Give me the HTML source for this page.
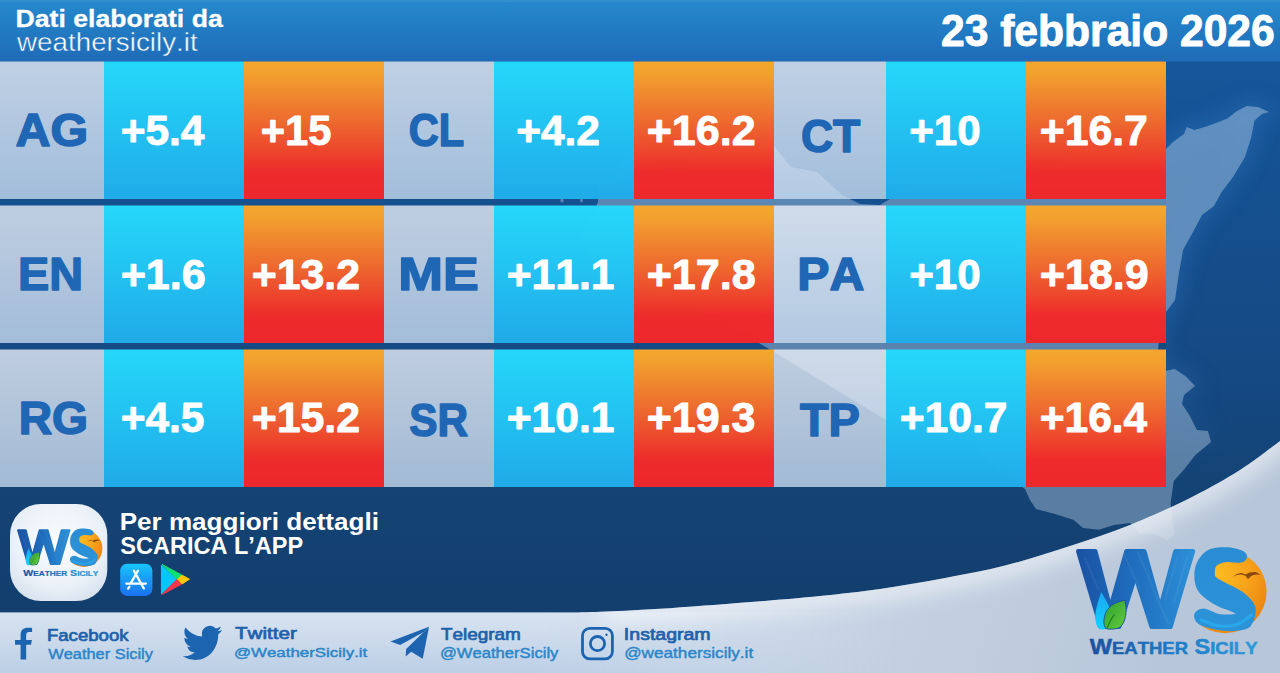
<!DOCTYPE html>
<html lang="it"><head><meta charset="utf-8"><title>Weather Sicily - 23 febbraio 2026</title>
<style>html,body{margin:0;padding:0;background:#15508f;overflow:hidden}svg{display:block}text{font-family:"Liberation Sans",sans-serif;font-kerning:none;white-space:pre}</style></head><body>
<svg width="1280" height="673" viewBox="0 0 1280 673">
<defs>
<linearGradient id="gBg" x1="0" y1="0" x2="0" y2="1">
 <stop offset="0" stop-color="#16599f"/><stop offset="0.30" stop-color="#15508f"/><stop offset="0.52" stop-color="#154a85"/><stop offset="0.73" stop-color="#144375"/><stop offset="1" stop-color="#123c69"/>
</linearGradient>
<linearGradient id="gHead" x1="0" y1="0" x2="0" y2="1">
 <stop offset="0" stop-color="#2489cd"/><stop offset="1" stop-color="#1f6bb8"/>
</linearGradient>
<linearGradient id="gLab" x1="0" y1="0" x2="0" y2="1">
 <stop offset="0" stop-color="#f4f6fb"/><stop offset="1" stop-color="#cfe0f3"/>
</linearGradient>
<linearGradient id="gMin" x1="0" y1="0" x2="0" y2="1">
 <stop offset="0" stop-color="#25dafb"/><stop offset="1" stop-color="#20acea"/>
</linearGradient>
<linearGradient id="gMax" x1="0" y1="0" x2="0" y2="1">
 <stop offset="0" stop-color="#f6a82d"/><stop offset="0.08" stop-color="#f5a22d"/><stop offset="0.45" stop-color="#ef682d"/><stop offset="0.8" stop-color="#f02b2a"/><stop offset="1" stop-color="#ef272b"/>
</linearGradient>
<linearGradient id="gSky" gradientUnits="userSpaceOnUse" x1="700" y1="560" x2="1150" y2="720">
 <stop offset="0" stop-color="#cdd9e8"/><stop offset="1" stop-color="#b7c6d9"/>
</linearGradient>
<linearGradient id="gSocV" x1="0" y1="0" x2="0" y2="1">
 <stop offset="0" stop-color="#d8e3f0"/><stop offset="1" stop-color="#bccfe6"/>
</linearGradient>
<linearGradient id="gSocH" gradientUnits="userSpaceOnUse" x1="0" y1="0" x2="900" y2="0">
 <stop offset="0" stop-color="#fff"/><stop offset="0.6" stop-color="#fff"/><stop offset="1" stop-color="#000"/>
</linearGradient>
<mask id="mSoc" maskUnits="userSpaceOnUse" x="0" y="600" width="900" height="80"><rect x="0" y="600" width="900" height="80" fill="url(#gSocH)"/></mask>
</defs>
<rect width="1280" height="673" fill="url(#gBg)"/>
<filter id="blurM" x="-20%" y="-20%" width="140%" height="140%"><feGaussianBlur stdDeviation="10"/></filter>
<linearGradient id="gHalo" gradientUnits="userSpaceOnUse" x1="0" y1="340" x2="0" y2="470"><stop offset="0" stop-color="#fff"/><stop offset="1" stop-color="#000"/></linearGradient><mask id="haloclip" maskUnits="userSpaceOnUse" x="1166" y="0" width="114" height="673"><rect x="1166" y="0" width="114" height="673" fill="url(#gHalo)"/></mask>
<g mask="url(#haloclip)"><polygon fill="#3f8fe0" fill-opacity="0.16" stroke="#3f8fe0" stroke-opacity="0.16" stroke-width="14" filter="url(#blurM)" points="1269,112 1258,107 1246.7,106 1237,111 1227,118.7 1208,126 1194.5,130 1186.7,127 1184,134 1173,142 1166,149 1150,156 1125,151 1085,147 1051,166 990,178 920,177 890,199 880,205 860,204 842,195 817,172 791,167 774,146 765,140 745,150 723,134 700,150 676,177 655,160 644,136 630,150 615,175 598,185 598,202 590,220 580,239 590,260 614,279 660,300 719,317 759,343 774,352 815,377 886,420 903,428 969,440 1000,470 1025,489 1030,500 1036,509 1055,514 1073.75,520 1083,528 1098.75,529.7 1114,525 1130,523 1139,533 1155,534 1167.5,540.6 1175,534 1172,518.75 1170.6,503 1173.75,481 1184.7,468.75 1195.6,454.7 1211,442 1208,431 1197,430 1189.6,415.5 1182,404 1184,395 1195,386 1186,376.5 1174.7,369 1165.4,371 1158,350 1160,330 1166,312 1175,300 1179,273 1183,250 1192.5,233 1202,215 1214,206 1221.6,192 1233,177 1245,157 1251,138 1254.5,120.6 1262,114"/></g>
<polygon fill="#d8e8f7" fill-opacity="0.36" points="1269,112 1258,107 1246.7,106 1237,111 1227,118.7 1208,126 1194.5,130 1186.7,127 1184,134 1173,142 1166,149 1150,156 1125,151 1085,147 1051,166 990,178 920,177 890,199 880,205 860,204 842,195 817,172 791,167 774,146 765,140 745,150 723,134 700,150 676,177 655,160 644,136 630,150 615,175 598,185 598,202 590,220 580,239 590,260 614,279 660,300 719,317 759,343 774,352 815,377 886,420 903,428 969,440 1000,470 1025,489 1030,500 1036,509 1055,514 1073.75,520 1083,528 1098.75,529.7 1114,525 1130,523 1139,533 1155,534 1167.5,540.6 1175,534 1172,518.75 1170.6,503 1173.75,481 1184.7,468.75 1195.6,454.7 1211,442 1208,431 1197,430 1189.6,415.5 1182,404 1184,395 1195,386 1186,376.5 1174.7,369 1165.4,371 1158,350 1160,330 1166,312 1175,300 1179,273 1183,250 1192.5,233 1202,215 1214,206 1221.6,192 1233,177 1245,157 1251,138 1254.5,120.6 1262,114"/>
<g fill="#d8e8f7" fill-opacity="0.36"><ellipse cx="562" cy="200.5" rx="1.6" ry="2"/><ellipse cx="581.5" cy="200.5" rx="1.4" ry="2"/></g>
<clipPath id="skyclip"><path d="M575,612.5 C579.2,612.4 585.8,612.4 600,611.8 C614.2,611.2 634.8,610.4 660,608.8 C685.2,607.2 724.3,604.1 751,602 C777.7,599.9 798.5,598.2 820,596 C841.5,593.8 859.2,592.0 880,589 C900.8,586.0 924.2,581.9 945,578 C965.8,574.1 984.2,570.9 1005,565.6 C1025.8,560.3 1049.2,552.8 1070,546 C1090.8,539.2 1109.7,533.2 1130,525 C1150.3,516.8 1173.7,506.2 1192,497 C1210.3,487.8 1225.3,479.3 1240,470 C1254.7,460.7 1273.3,445.8 1280,441 L1280,673 L0,673 L0,612.5 Z"/></clipPath>
<filter id="blur14" x="-10%" y="-50%" width="120%" height="200%"><feGaussianBlur stdDeviation="10"/></filter>
<path d="M575,612.5 C579.2,612.4 585.8,612.4 600,611.8 C614.2,611.2 634.8,610.4 660,608.8 C685.2,607.2 724.3,604.1 751,602 C777.7,599.9 798.5,598.2 820,596 C841.5,593.8 859.2,592.0 880,589 C900.8,586.0 924.2,581.9 945,578 C965.8,574.1 984.2,570.9 1005,565.6 C1025.8,560.3 1049.2,552.8 1070,546 C1090.8,539.2 1109.7,533.2 1130,525 C1150.3,516.8 1173.7,506.2 1192,497 C1210.3,487.8 1225.3,479.3 1240,470 C1254.7,460.7 1273.3,445.8 1280,441 L1280,673 L0,673 L0,612.5 Z" fill="url(#gSky)"/>
<rect x="0" y="612.5" width="900" height="60.5" fill="url(#gSocV)" clip-path="url(#skyclip)" mask="url(#mSoc)"/>
<g clip-path="url(#skyclip)"><path d="M600,611.8 C610.0,611.3 634.8,610.4 660,608.8 C685.2,607.2 724.3,604.1 751,602 C777.7,599.9 798.5,598.2 820,596 C841.5,593.8 859.2,592.0 880,589 C900.8,586.0 924.2,581.9 945,578 C965.8,574.1 984.2,570.9 1005,565.6 C1025.8,560.3 1049.2,552.8 1070,546 C1090.8,539.2 1109.7,533.2 1130,525 C1150.3,516.8 1173.7,506.2 1192,497 C1210.3,487.8 1225.3,479.3 1240,470 C1254.7,460.7 1273.3,445.8 1280,441 L1330,400" fill="none" stroke="#ffffff" stroke-opacity="0.5" stroke-width="26" filter="url(#blur14)"/>
<polygon fill="#ffffff" fill-opacity="0.16" points="1269,112 1258,107 1246.7,106 1237,111 1227,118.7 1208,126 1194.5,130 1186.7,127 1184,134 1173,142 1166,149 1150,156 1125,151 1085,147 1051,166 990,178 920,177 890,199 880,205 860,204 842,195 817,172 791,167 774,146 765,140 745,150 723,134 700,150 676,177 655,160 644,136 630,150 615,175 598,185 598,202 590,220 580,239 590,260 614,279 660,300 719,317 759,343 774,352 815,377 886,420 903,428 969,440 1000,470 1025,489 1030,500 1036,509 1055,514 1073.75,520 1083,528 1098.75,529.7 1114,525 1130,523 1139,533 1155,534 1167.5,540.6 1175,534 1172,518.75 1170.6,503 1173.75,481 1184.7,468.75 1195.6,454.7 1211,442 1208,431 1197,430 1189.6,415.5 1182,404 1184,395 1195,386 1186,376.5 1174.7,369 1165.4,371 1158,350 1160,330 1166,312 1175,300 1179,273 1183,250 1192.5,233 1202,215 1214,206 1221.6,192 1233,177 1245,157 1251,138 1254.5,120.6 1262,114"/></g>
<rect x="0" y="0" width="1280" height="61.5" fill="url(#gHead)"/>
<rect x="0" y="0" width="1280" height="2" fill="#ffffff" fill-opacity="0.06"/>
<rect x="0" y="61.5" width="104" height="137.5" fill="url(#gLab)" fill-opacity="0.76"/>
<rect x="104" y="61.5" width="140" height="137.5" fill="url(#gMin)" fill-opacity="0.985"/>
<rect x="244" y="61.5" width="140" height="137.5" fill="url(#gMax)" fill-opacity="0.99"/>
<rect x="384" y="61.5" width="110" height="137.5" fill="url(#gLab)" fill-opacity="0.76"/>
<rect x="494" y="61.5" width="140" height="137.5" fill="url(#gMin)" fill-opacity="0.985"/>
<rect x="634" y="61.5" width="140" height="137.5" fill="url(#gMax)" fill-opacity="0.99"/>
<rect x="774" y="61.5" width="112" height="137.5" fill="url(#gLab)" fill-opacity="0.76"/>
<rect x="886" y="61.5" width="140" height="137.5" fill="url(#gMin)" fill-opacity="0.985"/>
<rect x="1026" y="61.5" width="140" height="137.5" fill="url(#gMax)" fill-opacity="0.99"/>
<rect x="0" y="205.5" width="104" height="137.5" fill="url(#gLab)" fill-opacity="0.76"/>
<rect x="104" y="205.5" width="140" height="137.5" fill="url(#gMin)" fill-opacity="0.985"/>
<rect x="244" y="205.5" width="140" height="137.5" fill="url(#gMax)" fill-opacity="0.99"/>
<rect x="384" y="205.5" width="110" height="137.5" fill="url(#gLab)" fill-opacity="0.76"/>
<rect x="494" y="205.5" width="140" height="137.5" fill="url(#gMin)" fill-opacity="0.985"/>
<rect x="634" y="205.5" width="140" height="137.5" fill="url(#gMax)" fill-opacity="0.99"/>
<rect x="774" y="205.5" width="112" height="137.5" fill="url(#gLab)" fill-opacity="0.76"/>
<rect x="886" y="205.5" width="140" height="137.5" fill="url(#gMin)" fill-opacity="0.985"/>
<rect x="1026" y="205.5" width="140" height="137.5" fill="url(#gMax)" fill-opacity="0.99"/>
<rect x="0" y="349.5" width="104" height="137.5" fill="url(#gLab)" fill-opacity="0.76"/>
<rect x="104" y="349.5" width="140" height="137.5" fill="url(#gMin)" fill-opacity="0.985"/>
<rect x="244" y="349.5" width="140" height="137.5" fill="url(#gMax)" fill-opacity="0.99"/>
<rect x="384" y="349.5" width="110" height="137.5" fill="url(#gLab)" fill-opacity="0.76"/>
<rect x="494" y="349.5" width="140" height="137.5" fill="url(#gMin)" fill-opacity="0.985"/>
<rect x="634" y="349.5" width="140" height="137.5" fill="url(#gMax)" fill-opacity="0.99"/>
<rect x="774" y="349.5" width="112" height="137.5" fill="url(#gLab)" fill-opacity="0.76"/>
<rect x="886" y="349.5" width="140" height="137.5" fill="url(#gMin)" fill-opacity="0.985"/>
<rect x="1026" y="349.5" width="140" height="137.5" fill="url(#gMax)" fill-opacity="0.99"/>
<text transform="translate(15.54,145.55) scale(1.0621,1)" font-size="45.64" font-weight="700" fill="#1f67b5"  stroke="#1f67b5" stroke-width="1.5" stroke-linejoin="round">AG</text>
<text transform="translate(408.74,145.55) scale(0.9129,1)" font-size="45.64" font-weight="700" fill="#1f67b5"  stroke="#1f67b5" stroke-width="1.5" stroke-linejoin="round">CL</text>
<text transform="translate(800.92,151.85) scale(0.9765,1)" font-size="45.64" font-weight="700" fill="#1f67b5"  stroke="#1f67b5" stroke-width="1.5" stroke-linejoin="round">CT</text>
<text transform="translate(17.92,289.75) scale(1.0267,1)" font-size="45.64" font-weight="700" fill="#1f67b5"  stroke="#1f67b5" stroke-width="1.5" stroke-linejoin="round">EN</text>
<text transform="translate(398.15,289.55) scale(1.1788,1)" font-size="45.64" font-weight="700" fill="#1f67b5"  stroke="#1f67b5" stroke-width="1.5" stroke-linejoin="round">ME</text>
<text transform="translate(797.22,290.35) scale(1.0576,1)" font-size="45.64" font-weight="700" fill="#1f67b5"  stroke="#1f67b5" stroke-width="1.5" stroke-linejoin="round">PA</text>
<text transform="translate(18.65,434.35) scale(1.0147,1)" font-size="45.64" font-weight="700" fill="#1f67b5"  stroke="#1f67b5" stroke-width="1.5" stroke-linejoin="round">RG</text>
<text transform="translate(409.23,435.75) scale(0.9288,1)" font-size="45.64" font-weight="700" fill="#1f67b5"  stroke="#1f67b5" stroke-width="1.5" stroke-linejoin="round">SR</text>
<text transform="translate(799.92,435.75) scale(1.0276,1)" font-size="45.64" font-weight="700" fill="#1f67b5"  stroke="#1f67b5" stroke-width="1.5" stroke-linejoin="round">TP</text>
<text transform="translate(120.67,144.55) scale(1.0107,1)" font-size="42.01" font-weight="700" fill="#ffffff"  stroke="#ffffff" stroke-width="0.9" stroke-linejoin="round">+5.4</text>
<text transform="translate(260.70,144.55) scale(0.9909,1)" font-size="42.01" font-weight="700" fill="#ffffff"  stroke="#ffffff" stroke-width="0.9" stroke-linejoin="round">+15</text>
<text transform="translate(516.17,144.55) scale(1.0109,1)" font-size="42.01" font-weight="700" fill="#ffffff"  stroke="#ffffff" stroke-width="0.9" stroke-linejoin="round">+4.2</text>
<text transform="translate(646.64,144.55) scale(1.0258,1)" font-size="42.01" font-weight="700" fill="#ffffff"  stroke="#ffffff" stroke-width="0.9" stroke-linejoin="round">+16.2</text>
<text transform="translate(909.28,144.55) scale(1.0019,1)" font-size="42.01" font-weight="700" fill="#ffffff"  stroke="#ffffff" stroke-width="0.9" stroke-linejoin="round">+10</text>
<text transform="translate(1039.65,144.55) scale(1.0187,1)" font-size="42.01" font-weight="700" fill="#ffffff"  stroke="#ffffff" stroke-width="0.9" stroke-linejoin="round">+16.7</text>
<text transform="translate(120.64,288.85) scale(1.0271,1)" font-size="42.01" font-weight="700" fill="#ffffff"  stroke="#ffffff" stroke-width="0.9" stroke-linejoin="round">+1.6</text>
<text transform="translate(251.65,288.85) scale(1.0195,1)" font-size="42.01" font-weight="700" fill="#ffffff"  stroke="#ffffff" stroke-width="0.9" stroke-linejoin="round">+13.2</text>
<text transform="translate(506.66,288.85) scale(1.0145,1)" font-size="42.01" font-weight="700" fill="#ffffff"  stroke="#ffffff" stroke-width="0.9" stroke-linejoin="round">+11.1</text>
<text transform="translate(646.64,288.85) scale(1.0278,1)" font-size="42.01" font-weight="700" fill="#ffffff"  stroke="#ffffff" stroke-width="0.9" stroke-linejoin="round">+17.8</text>
<text transform="translate(909.28,288.85) scale(1.0019,1)" font-size="42.01" font-weight="700" fill="#ffffff"  stroke="#ffffff" stroke-width="0.9" stroke-linejoin="round">+10</text>
<text transform="translate(1039.64,288.85) scale(1.0256,1)" font-size="42.01" font-weight="700" fill="#ffffff"  stroke="#ffffff" stroke-width="0.9" stroke-linejoin="round">+18.9</text>
<text transform="translate(120.67,432.15) scale(1.0107,1)" font-size="42.01" font-weight="700" fill="#ffffff"  stroke="#ffffff" stroke-width="0.9" stroke-linejoin="round">+4.5</text>
<text transform="translate(251.65,432.15) scale(1.0195,1)" font-size="42.01" font-weight="700" fill="#ffffff"  stroke="#ffffff" stroke-width="0.9" stroke-linejoin="round">+15.2</text>
<text transform="translate(506.66,432.15) scale(1.0145,1)" font-size="42.01" font-weight="700" fill="#ffffff"  stroke="#ffffff" stroke-width="0.9" stroke-linejoin="round">+10.1</text>
<text transform="translate(646.64,432.15) scale(1.0242,1)" font-size="42.01" font-weight="700" fill="#ffffff"  stroke="#ffffff" stroke-width="0.9" stroke-linejoin="round">+19.3</text>
<text transform="translate(899.66,432.15) scale(1.0138,1)" font-size="42.01" font-weight="700" fill="#ffffff"  stroke="#ffffff" stroke-width="0.9" stroke-linejoin="round">+10.7</text>
<text transform="translate(1039.66,432.15) scale(1.0125,1)" font-size="42.01" font-weight="700" fill="#ffffff"  stroke="#ffffff" stroke-width="0.9" stroke-linejoin="round">+16.4</text>
<text transform="translate(15.57,26.55) scale(1.0981,1)" font-size="24.27" font-weight="700" fill="#ffffff"  stroke="#ffffff" stroke-width="0.3" stroke-linejoin="round">Dati elaborati da</text>
<text transform="translate(17.04,51.00) scale(1.0928,1)" font-size="25.43" font-weight="400" fill="#ffffff"  stroke="#2277c1" stroke-width="0.45">weathersicily.it</text>
<text transform="translate(940.97,45.55) scale(0.9803,1)" font-size="43.46" font-weight="700" fill="#ffffff"  stroke="#ffffff" stroke-width="0.9" stroke-linejoin="round">23 febbraio 2026</text>
<text transform="translate(119.65,529.50) scale(1.1289,1)" font-size="23.11" font-weight="700" fill="#ffffff" >Per maggiori dettagli</text>
<text transform="translate(120.22,553.60) scale(1.0121,1)" font-size="23.26" font-weight="700" fill="#ffffff" >SCARICA L’APP</text>
<text transform="translate(46.92,640.75) scale(1.1851,1)" font-size="15.70" font-weight="400" fill="#1e62ab"  stroke="#1e62ab" stroke-width="0.7" stroke-linejoin="round">Facebook</text>
<text transform="translate(48.25,658.77) scale(1.1675,1)" font-size="14.03" font-weight="400" fill="#2b86c9"  stroke="#2b86c9" stroke-width="0.45" stroke-linejoin="round">Weather Sicily</text>
<text transform="translate(234.89,638.85) scale(1.3046,1)" font-size="15.84" font-weight="400" fill="#1e62ab"  stroke="#1e62ab" stroke-width="0.7" stroke-linejoin="round">Twitter</text>
<text transform="translate(233.90,657.17) scale(1.2425,1)" font-size="13.59" font-weight="400" fill="#2b86c9"  stroke="#2b86c9" stroke-width="0.45" stroke-linejoin="round">@WeatherSicily.it</text>
<text transform="translate(440.92,639.65) scale(1.1631,1)" font-size="16.28" font-weight="400" fill="#1e62ab"  stroke="#1e62ab" stroke-width="0.7" stroke-linejoin="round">Telegram</text>
<text transform="translate(439.92,658.27) scale(1.1745,1)" font-size="14.17" font-weight="400" fill="#2b86c9"  stroke="#2b86c9" stroke-width="0.45" stroke-linejoin="round">@WeatherSicily</text>
<text transform="translate(623.85,639.65) scale(1.1990,1)" font-size="16.28" font-weight="400" fill="#1e62ab"  stroke="#1e62ab" stroke-width="0.7" stroke-linejoin="round">Instagram</text>
<text transform="translate(624.17,658.27) scale(1.1333,1)" font-size="15.16" font-weight="400" fill="#2b86c9"  stroke="#2b86c9" stroke-width="0.45" stroke-linejoin="round">@weathersicily.it</text>
<defs><linearGradient id="gW" x1="0" y1="0" x2="1" y2="0"><stop offset="0" stop-color="#1a52a3"/><stop offset="0.5" stop-color="#1f6fbe"/><stop offset="1" stop-color="#2c8fd6"/></linearGradient>
<radialGradient id="gSun" cx="0.35" cy="0.3" r="0.75"><stop offset="0" stop-color="#fdbf22"/><stop offset="0.6" stop-color="#f6a11a"/><stop offset="1" stop-color="#ec8410"/></radialGradient>
<linearGradient id="gLeaf" x1="0" y1="0" x2="1" y2="1"><stop offset="0" stop-color="#2f9e30"/><stop offset="1" stop-color="#63cc3c"/></linearGradient>
<linearGradient id="gDrop" x1="0" y1="0" x2="0" y2="1"><stop offset="0" stop-color="#1aa6f2"/><stop offset="1" stop-color="#14d2ff"/></linearGradient>
<linearGradient id="gS" x1="0" y1="0" x2="0" y2="1"><stop offset="0" stop-color="#2a8dd3"/><stop offset="1" stop-color="#2c93d9"/></linearGradient>
<linearGradient id="gTxt" x1="0" y1="0" x2="1" y2="0"><stop offset="0" stop-color="#1a50a1"/><stop offset="0.45" stop-color="#1f78c4"/><stop offset="1" stop-color="#2b9bdb"/></linearGradient>
<g id="wslogo"><polygon points="3.32,3.29 20.26,3.29 35.27,60.65 51.46,3.29 69.29,3.29 85.19,60.65 100.50,3.29 117.88,3.29 95.45,78.78 76.72,78.78 60.38,27.66 44.03,78.78 25.76,78.78" fill="url(#gW)" stroke="url(#gW)" stroke-width="4.6" stroke-linejoin="round"/>
<line x1="47.3" y1="2.4" x2="64.8" y2="41.0" stroke="#ffffff" stroke-opacity="0.05" stroke-width="2.2" stroke-linecap="round"/>
<line x1="62.6" y1="3.9" x2="78.2" y2="39.5" stroke="#ffffff" stroke-opacity="0.05" stroke-width="2.2" stroke-linecap="round"/>
<line x1="78.2" y1="41.0" x2="93.1" y2="75.2" stroke="#ffffff" stroke-opacity="0.05" stroke-width="2.2" stroke-linecap="round"/>
<line x1="102.0" y1="9.8" x2="90.1" y2="51.4" stroke="#ffffff" stroke-opacity="0.05" stroke-width="2.2" stroke-linecap="round"/>
<line x1="112.4" y1="8.3" x2="99.0" y2="54.4" stroke="#ffffff" stroke-opacity="0.05" stroke-width="2.2" stroke-linecap="round"/>
<line x1="9.9" y1="9.8" x2="23.2" y2="41.0" stroke="#ffffff" stroke-opacity="0.05" stroke-width="2.2" stroke-linecap="round"/>
<path d="M26.20,44.01 C27.19,45.74 30.71,51.44 32.15,54.41 C33.58,57.38 34.52,58.86 34.82,61.84 C35.12,64.81 34.75,69.14 33.93,72.24 C33.11,75.33 31.45,78.97 29.92,80.41 C28.38,81.85 26.13,81.47 24.72,80.86 C23.31,80.24 22.19,78.87 21.45,76.70 C20.71,74.52 20.16,71.00 20.26,67.78 C20.36,64.56 21.05,61.34 22.04,57.38 C23.03,53.42 25.51,46.23 26.20,44.01Z" fill="url(#gDrop)"/>
<path d="M49.68,52.18 C49.93,53.79 51.24,58.37 51.17,61.84 C51.09,65.30 50.42,70.01 49.23,72.98 C48.05,75.95 46.39,78.31 44.03,79.67 C41.68,81.03 37.40,81.15 35.12,81.15 C32.84,81.15 31.40,81.03 30.36,79.67 C29.32,78.31 28.70,75.70 28.88,72.98 C29.05,70.26 29.74,66.17 31.40,63.32 C33.06,60.47 35.79,57.75 38.83,55.89 C41.88,54.04 47.87,52.80 49.68,52.18Z" fill="url(#gLeaf)" stroke="#1c4f9c" stroke-width="0.9"/>
<path d="M32.1,80.0 Q35.9,70.8 39.6,66.3" fill="none" stroke="#1f7a2a" stroke-width="1.1"/>
<clipPath id="sunclip"><polygon points="168.7,-5.3 167.2,8.8 151.3,6.7 136.9,10.2 130.1,21.4 131.6,35.3 145.2,45.7 162.5,54.2 171.6,63.3 169.7,71.6 159.1,74.6 142.6,73.9 125.8,68.1 116.6,77.7 116.6,95.1 205.4,95.1 205.4,-5.3"/></clipPath>
<circle cx="150" cy="43.6" r="41.6" fill="url(#gSun)" clip-path="url(#sunclip)"/>
<path d="M167.93,3.07 C164.44,1.39 157.03,-0.60 151.01,-0.64 C144.98,-0.67 136.93,-0.47 131.81,2.86 C126.68,6.19 121.88,12.94 120.27,19.32 C118.65,25.70 119.03,35.03 122.12,41.16 C125.21,47.28 133.10,52.33 138.80,56.06 C144.50,59.78 152.35,61.70 156.33,63.51 C160.31,65.32 161.45,66.68 162.67,66.93 C163.90,67.17 164.42,65.07 163.70,64.98 C162.98,64.89 161.59,66.22 158.35,66.37 C155.10,66.53 149.19,66.91 144.22,65.92 C139.24,64.93 132.63,60.43 128.49,60.42 C124.36,60.41 120.29,63.31 119.41,65.86 C118.53,68.42 119.60,73.09 123.21,75.75 C126.82,78.41 134.98,80.63 141.07,81.83 C147.17,83.02 154.00,83.53 159.76,82.92 C165.52,82.30 172.18,82.02 175.64,78.13 C179.10,74.24 181.68,65.13 180.53,59.58 C179.38,54.04 173.56,48.90 168.72,44.85 C163.89,40.81 156.10,37.90 151.51,35.32 C146.91,32.73 143.09,31.35 141.16,29.37 C139.23,27.38 139.80,25.39 139.93,23.40 C140.05,21.42 139.95,19.04 141.90,17.47 C143.86,15.91 147.58,14.51 151.66,14.02 C155.74,13.53 163.00,15.31 166.39,14.55 C169.78,13.80 171.73,11.37 171.98,9.46 C172.24,7.55 171.43,4.76 167.93,3.07Z" fill="url(#gS)"/>
<path d="M126.24,71.94 C129.13,72.91 137.82,76.93 143.61,77.73 C149.40,78.54 155.51,78.54 160.98,76.77 C166.45,75.00 173.85,68.72 176.43,67.12" fill="none" stroke="#2aa9ee" stroke-opacity="0.85" stroke-width="3.2" stroke-linecap="round"/>
<path transform="translate(105,-13) scale(0.19305)" d="M275,216 Q305,186 338,204 Q362,190 392,192 Q405,196 416,208 Q388,200 366,214 Q360,228 350,226 Q345,212 326,206 Q300,202 275,216Z" fill="#8a4a12"/>
<text transform="translate(14.78,106.4) scale(1.0879,1)" font-weight="700" fill="url(#gTxt)" stroke="url(#gTxt)" stroke-width="0.5"><tspan font-size="21.66">W</tspan><tspan font-size="17.01">EATHER</tspan><tspan font-size="21.26"> </tspan><tspan font-size="21.66">S</tspan><tspan font-size="17.01">ICILY</tspan></text></g></defs>
<defs><radialGradient id="gIco" cx="0.5" cy="0.4" r="0.75"><stop offset="0" stop-color="#fbfdff"/><stop offset="0.6" stop-color="#eaf1f8"/><stop offset="1" stop-color="#cfdbe9"/></radialGradient>
<linearGradient id="gAS" x1="0" y1="0" x2="0" y2="1"><stop offset="0" stop-color="#18c4fb"/><stop offset="1" stop-color="#1a70ef"/></linearGradient></defs>
<rect x="10" y="504" width="97.3" height="97" rx="31" ry="31" fill="url(#gIco)"/>
<use href="#wslogo" transform="translate(16.6,528.8) scale(0.448)"/>
<use href="#wslogo" transform="translate(1075,548)"/>
<rect x="120.2" y="563.8" width="32.2" height="32.1" rx="7" fill="url(#gAS)"/>
<g stroke="#fff" stroke-width="2.3" stroke-linecap="round" fill="none"><path d="M137.9,570.8 L131.0,582.9 M129.5,586.6 L128.1,588.6 M133.9,570.8 L143.8,588.4 M126.3,583.6 L145.9,583.6"/></g>
<g stroke-linejoin="round" stroke-width="1"><polygon points="161.4,565.2 161.4,593.9 176.8,579.15" fill="#08c6fb" stroke="#08c6fb"/><polygon points="162,564.4 181.6,574.9 177.26,579.15" fill="#0fe06f" stroke="#0fe06f"/><polygon points="162,594.6 177.26,579.15 181.6,584.2" fill="#f7364a" stroke="#f7364a"/><polygon points="182.1,575.2 189.4,579.15 182.1,583.9 177.6,579.15" fill="#ffc802" stroke="#ffc802"/></g>
<path transform="translate(5,618) scale(0.07426)" d="M210,560 L285,560 L285,360 L350,360 L362,295 L285,295 L285,235 C285,200 295,187 325,187 L365,187 L365,133 C350,131 330,130 310,130 C245,130 210,165 210,225 L210,295 L135,295 L135,360 L210,360 Z" fill="#1c64b0"/>
<path id="twbird" transform="translate(182.8,621.9) scale(1.64,1.75)" d="M23.953 4.57a10 10 0 01-2.825.775 4.958 4.958 0 002.163-2.723c-.951.555-2.005.959-3.127 1.184a4.92 4.92 0 00-8.384 4.482C7.69 8.095 4.067 6.13 1.64 3.162a4.822 4.822 0 00-.666 2.475c0 1.71.87 3.213 2.188 4.096a4.904 4.904 0 01-2.228-.616v.06a4.923 4.923 0 003.946 4.827 4.996 4.996 0 01-2.212.085 4.936 4.936 0 004.604 3.417 9.867 9.867 0 01-6.102 2.105c-.39 0-.779-.023-1.17-.067a13.995 13.995 0 007.557 2.209c9.053 0 13.998-7.496 13.998-13.985 0-.21 0-.42-.015-.63A9.935 9.935 0 0024 4.59z" fill="#1c64b0"/>
<polygon points="390.43,641.61 429.04,626.76 423.69,631.96 400.23,644.88" fill="#1c64b0"/>
<polygon points="429.04,626.76 422.73,658.84 411.22,651.79 405.65,656.61 406.17,649.04 423.69,631.96" fill="#1c64b0"/>
<rect x="582.5" y="628.3" width="29.9" height="30.6" rx="7.2" fill="none" stroke="#1c64b0" stroke-width="2.8"/>
<circle cx="597.5" cy="643.6" r="7.1" fill="none" stroke="#1c64b0" stroke-width="2.8"/>
<circle cx="606.5" cy="634.7" r="1.2" fill="#1c64b0"/>
</svg></body></html>
